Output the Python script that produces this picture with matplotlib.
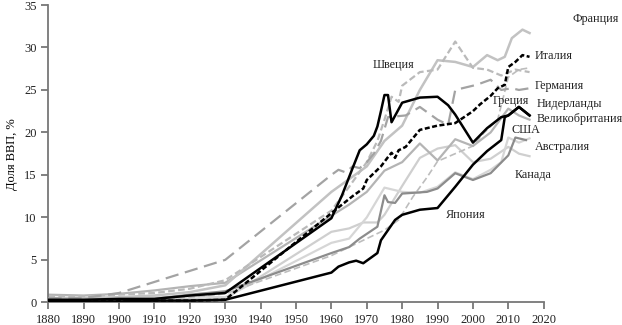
import matplotlib
matplotlib.use("Agg")
import matplotlib.pyplot as plt

# Социальные расходы, доля ВВП (%)
early_years = [1880, 1890, 1900, 1910, 1920, 1930]

years_fr = early_years + [1960, 1965, 1970, 1975, 1980, 1985, 1990, 1995, 2000, 2004, 2007, 2009, 2011, 2014, 2016]
share_fr = [0.5, 0.5, 0.6, 0.8, 1.2, 2.0] + [13.0, 14.5, 16.0, 19.0, 20.8, 25.0, 28.5, 28.3, 27.7, 29.1, 28.5, 28.9, 31.1, 32.1, 31.7]

years_it = early_years + [1960, 1963, 1966, 1969, 1970, 1973, 1974, 1976, 1977, 1978, 1979, 1981, 1985, 1990, 1995,
                          2000, 2002, 2005, 2007, 2009, 2010, 2012, 2014, 2016]
share_it = [0.1, 0.1, 0.2, 0.2, 0.2, 0.3] + [10.5, 11.5, 12.5, 13.4, 14.4, 15.6, 16.0, 17.1, 17.6, 17.0, 17.9, 18.3, 20.3,
                                            20.8, 21.1, 22.5, 23.3, 24.3, 25.2, 25.6, 27.7, 28.3, 29.1, 28.9]

years_se = early_years + [1960, 1965, 1970, 1973, 1975, 1977, 1979, 1980, 1985, 1990, 1995, 2000, 2004, 2008, 2012, 2016]
share_se = [0.7, 0.7, 0.9, 1.1, 1.6, 2.6] + [10.8, 13.6, 16.5, 19.0, 21.5, 24.2, 23.6, 25.5, 27.1, 27.4, 30.7, 27.6,
                                            27.4, 26.7, 27.4, 27.1]

years_de = early_years + [1960, 1962, 1964, 1966, 1968, 1970, 1972, 1974, 1976, 1981, 1985, 1990, 1993, 1995, 1999,
                          2001, 2005, 2008, 2011, 2013, 2016]
share_de = [0.5, 0.5, 1.1, 2.4, 3.7, 5.0] + [15.0, 15.6, 15.3, 16.0, 15.8, 16.5, 17.5, 19.0, 21.8, 22.0, 23.0, 21.5,
                                            20.9, 25.0, 25.4, 25.6, 26.2, 25.0, 25.2, 25.0, 25.2]

years_gr = early_years + [1960, 1965, 1970, 1975, 1979, 1983, 1987, 1990, 1995, 2000, 2003, 2007, 2010, 2013, 2016]
share_gr = [0.2, 0.2, 0.3, 0.4, 0.6, 1.0] + [5.5, 6.5, 7.5, 8.5, 9.7, 12.4, 14.7, 16.6, 17.5, 18.4, 19.9, 21.5, 26.5,
                                            27.4, 27.6]

years_nl = early_years + [1960, 1963, 1966, 1968, 1970, 1972, 1973, 1974, 1975, 1976, 1977, 1980, 1985, 1990, 1993,
                          1995, 2000, 2004, 2008, 2010, 2013, 2016]
share_nl = [0.3, 0.3, 0.4, 0.4, 0.8, 1.1] + [9.9, 12.6, 15.8, 17.9, 18.6, 19.6, 20.7, 22.5, 24.4, 24.4, 21.2, 23.5,
                                            24.1, 24.2, 23.2, 22.1, 18.8, 20.5, 21.8, 22.0, 23.0, 22.0]

years_uk = early_years + [1960, 1965, 1970, 1975, 1980, 1985, 1990, 1995, 2000, 2005, 2010, 2013, 2016]
share_uk = [0.9, 0.8, 1.0, 1.4, 1.9, 2.3] + [10.2, 11.5, 13.0, 15.5, 16.5, 18.7, 16.7, 19.2, 18.4, 20.0, 22.8, 22.0, 21.5]

years_us = early_years + [1960, 1965, 1970, 1975, 1980, 1985, 1990, 1995, 2000, 2005, 2008, 2010, 2013, 2016]
share_us = [0.3, 0.4, 0.5, 0.6, 0.7, 0.6] + [7.0, 7.5, 10.0, 13.5, 13.0, 12.9, 13.6, 15.3, 14.5, 15.6, 16.5, 19.4,
                                            18.8, 19.3]

years_au = early_years + [1960, 1965, 1968, 1973, 1975, 1976, 1978, 1980, 1987, 1990, 1995, 2000, 2005, 2010, 2012, 2015]
share_au = [0.2, 0.2, 0.3, 0.4, 0.9, 1.3] + [5.8, 6.5, 7.5, 8.9, 12.6, 11.8, 11.7, 12.8, 13.0, 13.4, 15.2, 14.4, 15.2,
                                            17.3, 19.4, 19.1]

years_ca = early_years + [1960, 1965, 1969, 1973, 1975, 1980, 1985, 1990, 1995, 2000, 2005, 2010, 2013, 2016]
share_ca = [0.2, 0.2, 0.3, 0.3, 0.4, 0.4] + [8.3, 8.7, 9.4, 9.4, 10.3, 13.7, 17.0, 18.1, 18.5, 16.5, 16.9, 18.3, 17.5, 17.2]

years_jp = early_years + [1960, 1962, 1965, 1967, 1969, 1973, 1974, 1976, 1978, 1980, 1985, 1990, 1995, 2000, 2004,
                          2008, 2009, 2010, 2013, 2016]
share_jp = [0.1, 0.1, 0.1, 0.2, 0.2, 0.3] + [3.5, 4.2, 4.7, 4.9, 4.6, 5.8, 7.3, 8.5, 9.7, 10.3, 10.9, 11.1, 13.6, 16.2,
                                            17.8, 19.1, 21.8, 22.0, 23.0, 22.0]

# подписи стран: (текст, год, значение)
labels = [
    ("Франция", 2028.2, 33.4),
    ("Италия", 2017.5, 29.0),
    ("Швеция", 1971.7, 27.9),
    ("Германия", 2017.5, 25.5),
    ("Греция", 2005.6, 23.7),
    ("Нидерланды", 2018.0, 23.4),
    ("Великобритания", 2018.0, 21.6),
    ("США", 2011.0, 20.3),
    ("Австралия", 2017.5, 18.3),
    ("Канада", 2011.8, 15.0),
    ("Япония", 1992.3, 10.3),
]

plt.rcParams['font.family'] = ['Liberation Serif', 'DejaVu Serif']

fig = plt.figure(figsize=(6.22, 3.25), dpi=100)
ax = fig.add_axes([0.0777, 0.0698, 0.7964, 0.9148])

# серые линии
ax.plot(years_ca, share_ca, color='#cfcfcf', lw=1.6, zorder=2)
ax.plot(years_us, share_us, color='#d6d6d6', lw=1.6, zorder=2)
ax.plot(years_gr, share_gr, color='#bdbdbd', lw=1.2, ls=(0, (4, 2)), zorder=2)
ax.plot(years_uk, share_uk, color='#b4b4b4', lw=1.6, zorder=2)
ax.plot(years_au, share_au, color='#8c8c8c', lw=1.6, zorder=3)
ax.plot(years_fr, share_fr, color='#c2c2c2', lw=1.8, zorder=2)
ax.plot(years_se, share_se, color='#bababa', lw=1.6, ls=(0, (3, 1.5)), zorder=2)
ax.plot(years_de, share_de, color='#a3a3a3', lw=1.6, ls=(0, (6, 3)), zorder=3)

# чёрные линии
ax.plot(years_it, share_it, color='black', lw=1.8, ls=(0, (2, 1)), zorder=4)
ax.plot(years_nl, share_nl, color='black', lw=1.8, zorder=4)
ax.plot(years_jp, share_jp, color='black', lw=1.8, zorder=4)

for text, x, y in labels:
    ax.text(x, y, text, fontsize=8.7, ha='left', va='center', color='#222222', zorder=5)

ax.set_xlim(1880, 2020)
ax.set_ylim(0, 35)
ax.set_xticks(range(1880, 2021, 10))
ax.set_yticks(range(0, 36, 5))
ax.set_ylabel('Доля ВВП, %', fontsize=9, labelpad=4)

for side in ['top', 'right']:
    ax.spines[side].set_visible(False)
for side in ['left', 'bottom']:
    ax.spines[side].set_color('#777777')
    ax.spines[side].set_linewidth(1.3)
ax.tick_params(colors='#777777', labelcolor='#222222', labelsize=9, length=5, width=1.3)

fig.savefig('out.png', dpi=100)
